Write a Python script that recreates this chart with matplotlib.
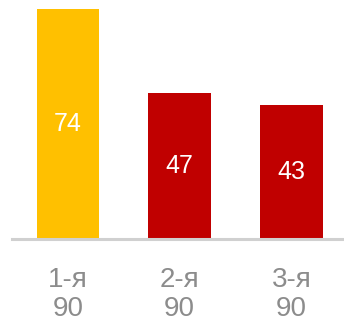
import matplotlib.pyplot as plt

categories = ['1-я\n90', '2-я\n90', '3-я\n90']
values = [74, 47, 43]
colors = ['#FFC000', '#C00000', '#C00000']

plt.rcParams['font.family'] = ['Liberation Sans', 'DejaVu Sans']

fig = plt.figure(figsize=(3.44, 3.24), dpi=100)
ax = fig.add_axes([12 / 344, 85 / 324, 332 / 344, 239 / 324])

x = range(len(values))
bars = ax.bar(x, values, width=0.56, color=colors)

# value labels centred inside each bar
for b, v in zip(bars, values):
    ax.text(b.get_x() + b.get_width() / 2, v / 2, str(v),
            ha='center', va='center', color='white', fontsize=18)

ax.set_xlim(-0.5, 2.47)
ax.set_ylim(0, 76.9)
ax.set_xticks(list(x))
ax.set_xticklabels(categories, fontsize=20, color='#8C8C8C', linespacing=1.15)
ax.tick_params(axis='x', length=0, pad=20)
ax.set_yticks([])

for s in ['top', 'right', 'left']:
    ax.spines[s].set_visible(False)
ax.spines['bottom'].set_color('#D0D0D0')
ax.spines['bottom'].set_linewidth(2.2)

fig.savefig('out.png', dpi=100)
